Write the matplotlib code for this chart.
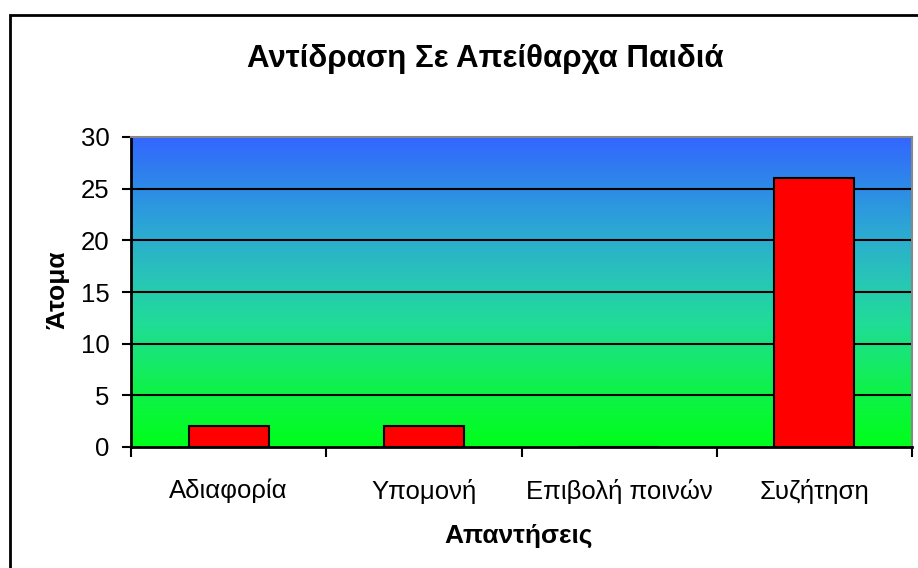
import numpy as np
import matplotlib
matplotlib.use("Agg")
import matplotlib.pyplot as plt
from matplotlib.colors import LinearSegmentedColormap
from matplotlib.patches import Rectangle

categories = ["Αδιαφορία", "Υπομονή", "Επιβολή ποινών", "Συζήτηση"]
values = [2, 2, 0, 26]
yticks = [0, 5, 10, 15, 20, 25, 30]
title = "Αντίδραση Σε Απείθαρχα Παιδιά"
xlabel = "Απαντήσεις"
ylabel = "Άτομα"

plt.rcParams['font.family'] = ['Liberation Sans', 'DejaVu Sans']

W, H = 918, 568
fig = plt.figure(figsize=(W / 100, H / 100), dpi=100)
fig.patch.set_facecolor('white')

# figure border (cropped at right/bottom in reference)
fig.add_artist(Rectangle((10 / W, -0.01), 1.02, 1 - 15 / H + 0.01, transform=fig.transFigure,
                         fill=False, edgecolor='black', linewidth=2, zorder=0))

left, right, top, bottom = 131, 912, 137, 447
ax = fig.add_axes([left / W, 1 - bottom / H, (right - left) / W, (bottom - top) / H])

x = np.arange(len(categories))
ax.set_xlim(-0.5, len(categories) - 0.5)
ax.set_ylim(0, 30)

cmap = LinearSegmentedColormap.from_list('g', [
    (0.0, '#00ff1a'), (0.2, '#10f050'), (0.4, '#20dc98'),
    (0.55, '#28c4b8'), (0.7, '#2ca8d4'), (0.85, '#2e88e8'), (1.0, '#3366ff')])
grad = np.linspace(0, 1, 256).reshape(-1, 1)
ax.imshow(grad, cmap=cmap, aspect='auto', origin='lower',
          extent=(-0.5, len(categories) - 0.5, 0, 30), zorder=0)

for yv in yticks[1:-1]:
    ax.axhline(yv, color='black', linewidth=1.5, zorder=1)

ax.bar(x, values, width=0.41, color='#ff0000', edgecolor='black', linewidth=1.5, zorder=2)

ax.set_yticks(yticks)
ax.set_yticklabels([str(v) for v in yticks], fontsize=18.5)
ax.set_xticks(np.arange(-0.5, len(categories), 1.0))
ax.set_xticklabels([])
ax.set_xticks(x, minor=True)
ax.set_xticklabels(categories, minor=True, fontsize=18.5)
ax.tick_params(axis='x', which='minor', length=0, pad=23)
ax.tick_params(axis='x', which='major', length=7, width=1.5, direction='out')
ax.tick_params(axis='y', length=6.5, width=1.5, direction='out', pad=9)

for s in ['left', 'bottom']:
    ax.spines[s].set_linewidth(2)
    ax.spines[s].set_color('black')
for s in ['top', 'right']:
    ax.spines[s].set_linewidth(1.5)
    ax.spines[s].set_color('#888888')

fig.text(519 / W, 1 - 536 / H, xlabel, ha='center', va='center', fontsize=19, fontweight='bold')
fig.text(57 / W, 1 - 290 / H, ylabel, ha='center', va='center', rotation=90,
         fontsize=19, fontweight='bold')

fig.text(485 / W, 1 - 59 / H, title, ha='center', va='center', fontsize=22.5, fontweight='bold')

fig.savefig('out.png', dpi=100)
